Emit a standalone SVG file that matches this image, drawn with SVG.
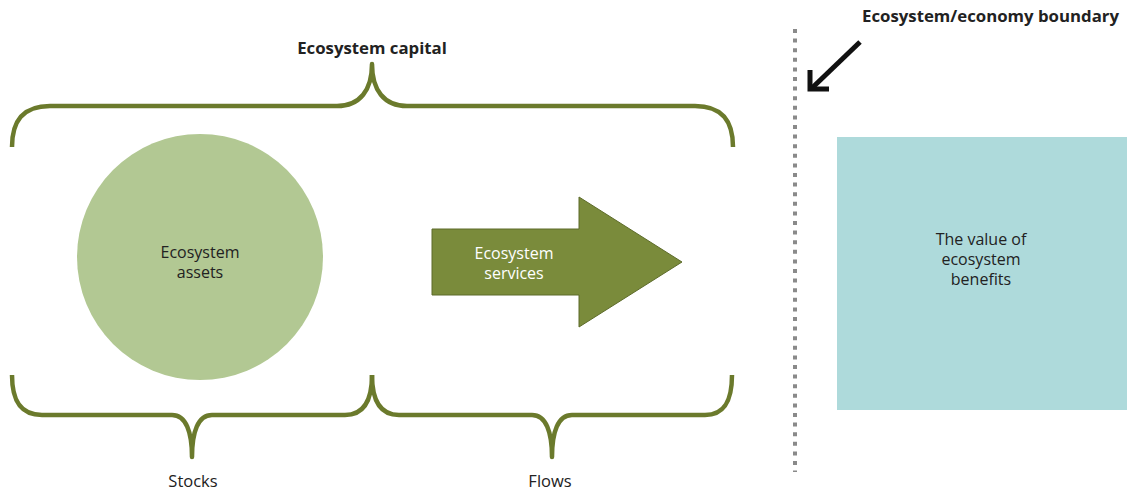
<svg xmlns="http://www.w3.org/2000/svg" width="1127" height="490" viewBox="0 0 1127 490">
<defs>
<style>
.brace{fill:none;stroke:#6b7a2c;stroke-width:4.5;stroke-linecap:butt;stroke-linejoin:round}
.t{font-family:"Open Sans","Liberation Sans",sans-serif;font-size:16.5px;fill:#222;text-anchor:middle}
.m{font-size:16px}
.b{font-weight:bold;font-size:16.8px}
.w{fill:#fff}
</style>
</defs>
<rect width="1127" height="490" fill="#fff"/>
<g id="connectors">
<path class="brace" d="M12,147 C12,122 22,106 50,106 L337,106 C360,106 372,90 372,64 C372,90 384,106 407,106 L695,106 C723,106 733,122 733,147"/>
<path class="brace" d="M12,375 C12,400 20,415 42,415 L172,415 C186,415 192,432 192,457 C192,432 198,415 212,415 L345,415 C364,415 372,400 372,375"/>
<path class="brace" d="M372,375 C372,400 380,415 399,415 L532,415 C546,415 552,432 552,457 C552,432 558,415 572,415 L705,415 C725,415 732,400 732,375"/>
<line x1="795" y1="29" x2="795" y2="472" stroke="#8a8a8a" stroke-width="4" stroke-dasharray="4 5.6"/>
<g id="boundary-arrow" fill="none" stroke="#111" stroke-width="5">
<line x1="860" y1="42" x2="812" y2="88"/>
<polyline points="810,70 810,89 829,89" stroke-linejoin="miter"/>
</g>
</g>
<g id="ecosystem-capital">
<text class="t b" x="372" y="54">Ecosystem capital</text>
</g>
<g id="ecosystem-assets">
<circle cx="200" cy="257" r="123" fill="#b2c893"/>
<text class="t m" x="200" y="258">Ecosystem</text>
<text class="t m" x="200" y="278">assets</text>
</g>
<g id="ecosystem-services">
<polygon points="432,229 579,229 579,197 682,262 579,327 579,295 432,295" fill="#7a8b3b" stroke="#5d6b2a" stroke-width="1"/>
<text class="t m w" x="514" y="259">Ecosystem</text>
<text class="t m w" x="514" y="279">services</text>
</g>
<g id="value-benefits">
<rect x="837" y="137" width="290" height="273" fill="#aedadb"/>
<text class="t m" x="981" y="245">The value of</text>
<text class="t m" x="981" y="265">ecosystem</text>
<text class="t m" x="981" y="285">benefits</text>
</g>
<g id="boundary-label">
<text class="t b" x="862" y="22" style="text-anchor:start">Ecosystem/economy boundary</text>
</g>
<g id="stocks"><text class="t" x="193" y="487">Stocks</text></g>
<g id="flows"><text class="t" x="550" y="487">Flows</text></g>
</svg>
